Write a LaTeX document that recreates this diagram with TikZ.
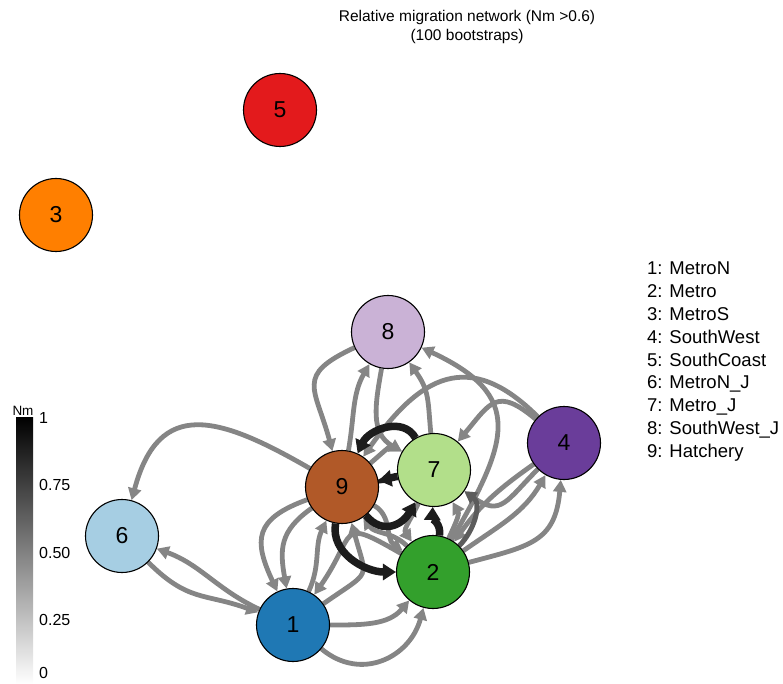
\documentclass[tikz,border=0pt]{standalone}
\usepackage{fontspec}
\setmainfont{Liberation Sans}
\usetikzlibrary{arrows.meta}
\definecolor{cA}{HTML}{1F78B4}
\definecolor{cB}{HTML}{33A02C}
\definecolor{cC}{HTML}{FF7F00}
\definecolor{cD}{HTML}{6A3D9A}
\definecolor{cE}{HTML}{E31A1C}
\definecolor{cF}{HTML}{A6CEE3}
\definecolor{cG}{HTML}{B2DF8A}
\definecolor{cH}{HTML}{CAB2D6}
\definecolor{cI}{HTML}{B15928}
\definecolor{edgegray}{RGB}{133,133,133}
\definecolor{edgedark}{RGB}{92,92,92}
\definecolor{edgeblack}{RGB}{28,28,28}
\pgfdeclarelayer{bg}
\pgfsetlayers{bg,main}
\begin{document}
\begin{tikzpicture}[x=1pt,y=1pt,
  nd/.style={circle, draw=black, line width=1.1pt, minimum size=73pt, inner sep=0pt, font=\fontsize{23}{23}\selectfont},
  ge/.style={draw=edgegray, line width=4.8pt, -{Triangle[length=12pt,width=13pt]}},
  dge/.style={draw=edgedark, line width=5pt, -{Triangle[length=12pt,width=13pt]}},
  be/.style={draw=edgeblack, line width=7.5pt, -{Triangle[length=13pt,width=16pt]}},
  lg/.style={anchor=west, inner sep=0pt, font=\fontsize{18.5}{18.5}\selectfont},
  cb/.style={anchor=west, inner sep=0pt, font=\fontsize{16}{16}\selectfont}]
\useasboundingbox (0,0) rectangle (783,-684);

% title
\node[font=\fontsize{15.5}{19}\selectfont, align=center] (title) at (467,-27) {Relative migration network (Nm >0.6)\\(100 bootstraps)};

% nodes
\node[nd, fill=cE] (n5) at (280,-110) {5};
\node[nd, fill=cC] (n3) at (56,-215) {3};
\node[nd, fill=cH] (n8) at (388,-332) {8};
\node[nd, fill=cD] (n4) at (564,-443) {4};
\node[nd, fill=cI] (n9) at (342,-487) {9};
\node[nd, fill=cG] (n7) at (434,-470) {7};
\node[nd, fill=cF] (n6) at (122,-536) {6};
\node[nd, fill=cB] (n2) at (433,-572) {2};
\node[nd, fill=cA] (n1) at (293,-625) {1};

\begin{pgfonlayer}{bg}
% grey edges
\draw[ge] (n9) to[out=150,in=75,looseness=1.5] (n6);
\draw[ge] (n1) to[out=155,in=-20] (n6);
\draw[ge] (n6) to[out=-45,in=160,looseness=1.2] (n1);
\draw[ge] (n9) to[out=200,in=115,looseness=1.5] (n1);
\draw[ge] (n9) to[out=215,in=100,looseness=1.2] (n1);
\draw[ge] (n1) to[out=65,in=-115] (n9);
\draw[ge] (n2) to[out=150,in=55,looseness=2] (n1);
\draw[ge] (n1) to[out=35,in=-75,looseness=1.8] (n9);
\draw[ge] (n1) to[out=0,in=-130] (n2);
\draw[ge] (n1) to[out=-40,in=-105,looseness=1.2] (n2);
\draw[ge] (n8) to[out=205,in=105,looseness=1.6] (n9);
\draw[ge] (n9) to[out=80,in=-120] (n8);
\draw[ge] (n8) to[out=-100,in=150,looseness=1.1] (n7);
\draw[ge] (n7) to[out=95,in=-55,looseness=1.2] (n8);
\draw[ge] (n2) to[out=60,in=-25,looseness=1.5] (n8);
\draw[ge] (n4) to[out=135,in=55,looseness=1.4] (n9);
\draw[ge] (n4) to[out=140,in=50,looseness=1.6] (n7);
\draw[ge] (n4) to[out=-135,in=-35,looseness=1.5] (n7);
\draw[ge] (n2) to[out=15,in=-95,looseness=1.3] (n4);
\draw[ge] (n2) to[out=35,in=-120] (n4);
\draw[ge] (n4) to[out=-145,in=55] (n2);
\draw[ge] (n2) to[out=65,in=-60] (n7);
\draw[ge] (n7) to[out=-115,in=125] (n2);
\draw[ge] (n9) to[out=-30,in=145] (n2);
\draw[ge] (n2) to[out=135,in=-55] (n9);
\draw[ge] (n9) to[out=40,in=150] (n7);
\draw[dge] (n2) to[out=45,in=-35] (n7);
% strong edges
\draw[be] (n7) to[out=120,in=65,looseness=1.1] (n9);
\draw[be] (n7) to[out=190,in=10] (n9);
\draw[be] (n9) to[out=-50,in=-120,looseness=1.3] (n7);
\draw[be] (n9) to[out=-100,in=180] (n2);
\draw[be] (n2) to[out=80,in=-92] (n7);
\end{pgfonlayer}

% legend
\node[lg] (l1) at (647,-268) {1: MetroN};
\node[lg] (l2) at (647,-291) {2: Metro};
\node[lg] (l3) at (647,-314) {3: MetroS};
\node[lg] (l4) at (647,-337) {4: SouthWest};
\node[lg] (l5) at (647,-360) {5: SouthCoast};
\node[lg] (l6) at (647,-384) {6: MetroN\_J};
\node[lg] (l7) at (647,-407) {7: Metro\_J};
\node[lg] (l8) at (647,-430) {8: SouthWest\_J};
\node[lg] (l9) at (647,-453) {9: Hatchery};

% colour bar
\shade[top color=black, bottom color=white] (16,-417) rectangle (33,-684);
\node[font=\fontsize{13.5}{13.5}\selectfont, inner sep=0pt] (nm) at (23,-411) {Nm};
\node[cb] (t1) at (39,-418) {1};
\node[cb] (t2) at (39,-485) {0.75};
\node[cb] (t3) at (39,-553) {0.50};
\node[cb] (t4) at (39,-620) {0.25};
\node[cb] (t5) at (39,-673) {0};
\end{tikzpicture}
\end{document}
